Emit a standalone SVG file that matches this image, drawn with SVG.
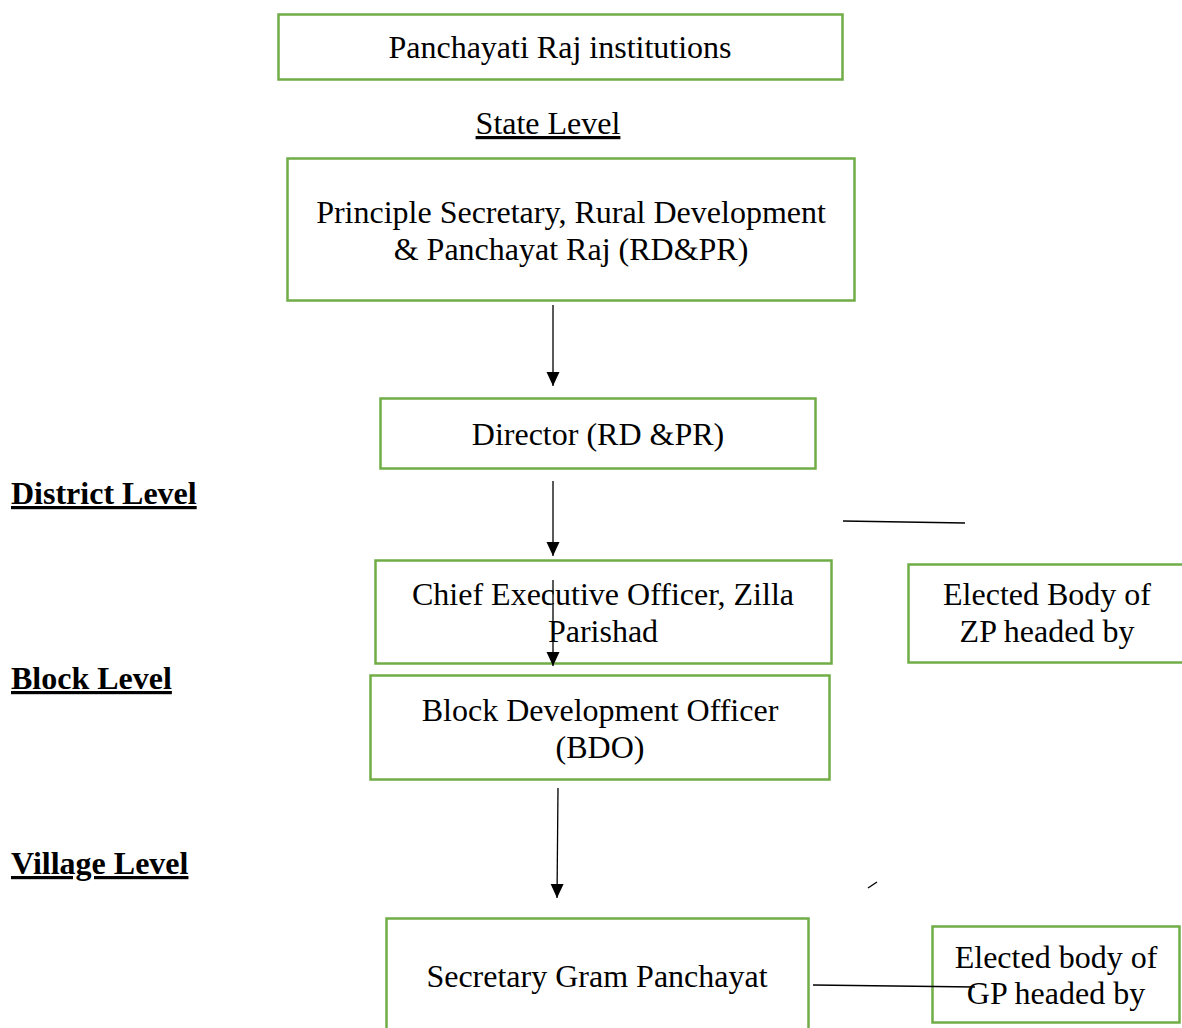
<svg xmlns="http://www.w3.org/2000/svg" width="1182" height="1028" viewBox="0 0 1182 1028">
<defs>
<style>
.box{fill:#fff;stroke:#70AD47;stroke-width:2.5}
.t{font-family:"Liberation Serif","Times New Roman",serif;font-size:32px;fill:#000;text-anchor:middle}
.lvl{font-family:"Liberation Serif","Times New Roman",serif;font-size:32px;font-weight:bold;fill:#000;text-decoration:underline}
.c{stroke:#000;stroke-width:1.3;fill:none}
</style>
<marker id="ah2" markerWidth="14" markerHeight="14" refX="14" refY="7" orient="auto" markerUnits="userSpaceOnUse" viewBox="0 0 14 14">
<path d="M0,0.5 L14,7 L0,13.5 Z" fill="#000"/>
</marker>
</defs>
<rect width="1182" height="1028" fill="#fff"/>
<g id="n-pri"><rect class="box" x="278.5" y="14.5" width="564" height="65"/><text class="t" x="560" y="58">Panchayati Raj institutions</text></g>
<g id="lbl-state"><text class="t" x="548" y="134" style="text-decoration:underline">State Level</text></g>
<g id="n-ps"><rect class="box" x="287.5" y="158.5" width="567" height="142"/><text class="t" x="571" y="223">Principle Secretary, Rural Development</text><text class="t" x="571" y="260">&amp; Panchayat Raj (RD&amp;PR)</text></g>
<g id="n-dir"><rect class="box" x="380.5" y="398.5" width="435" height="70"/><text class="t" x="598" y="445">Director (RD &amp;PR)</text></g>
<g id="lbl-district"><text class="lvl" x="11" y="504">District Level</text></g>
<g id="n-ceo"><rect class="box" x="375.5" y="560.5" width="456" height="103"/><text class="t" x="603" y="605">Chief Executive Officer, Zilla</text><text class="t" x="603" y="642">Parishad</text></g>
<g id="n-zp"><rect class="box" x="908.5" y="564.5" width="280" height="98"/><text class="t" x="1047" y="605">Elected Body of</text><text class="t" x="1047" y="642">ZP headed by</text></g>
<g id="lbl-block"><text class="lvl" x="11" y="689">Block Level</text></g>
<g id="n-bdo"><rect class="box" x="370.5" y="675.5" width="459" height="104"/><text class="t" x="600" y="721">Block Development Officer</text><text class="t" x="600" y="758">(BDO)</text></g>
<g id="lbl-village"><text class="lvl" x="11" y="874">Village Level</text></g>
<g id="n-sgp"><rect class="box" x="386.5" y="918.5" width="422" height="120"/><text class="t" x="597" y="987">Secretary Gram Panchayat</text></g>
<g id="n-gp"><rect class="box" x="932.5" y="926.5" width="247" height="96"/><text class="t" x="1056" y="968">Elected body of</text><text class="t" x="1056" y="1004">GP headed by</text></g>
<g id="connectors">
<line class="c" x1="553" y1="305" x2="553" y2="386" marker-end="url(#ah2)"/>
<line class="c" x1="553" y1="481" x2="553" y2="556" marker-end="url(#ah2)"/>
<line class="c" x1="553" y1="580" x2="553" y2="666" marker-end="url(#ah2)"/>
<line class="c" x1="558" y1="788" x2="557" y2="898" marker-end="url(#ah2)"/>
<line class="c" x1="843" y1="521" x2="965" y2="523"/>
<line class="c" x1="868" y1="888" x2="877" y2="882"/>
<line class="c" x1="813" y1="985" x2="975" y2="987"/>
</g>
</svg>
